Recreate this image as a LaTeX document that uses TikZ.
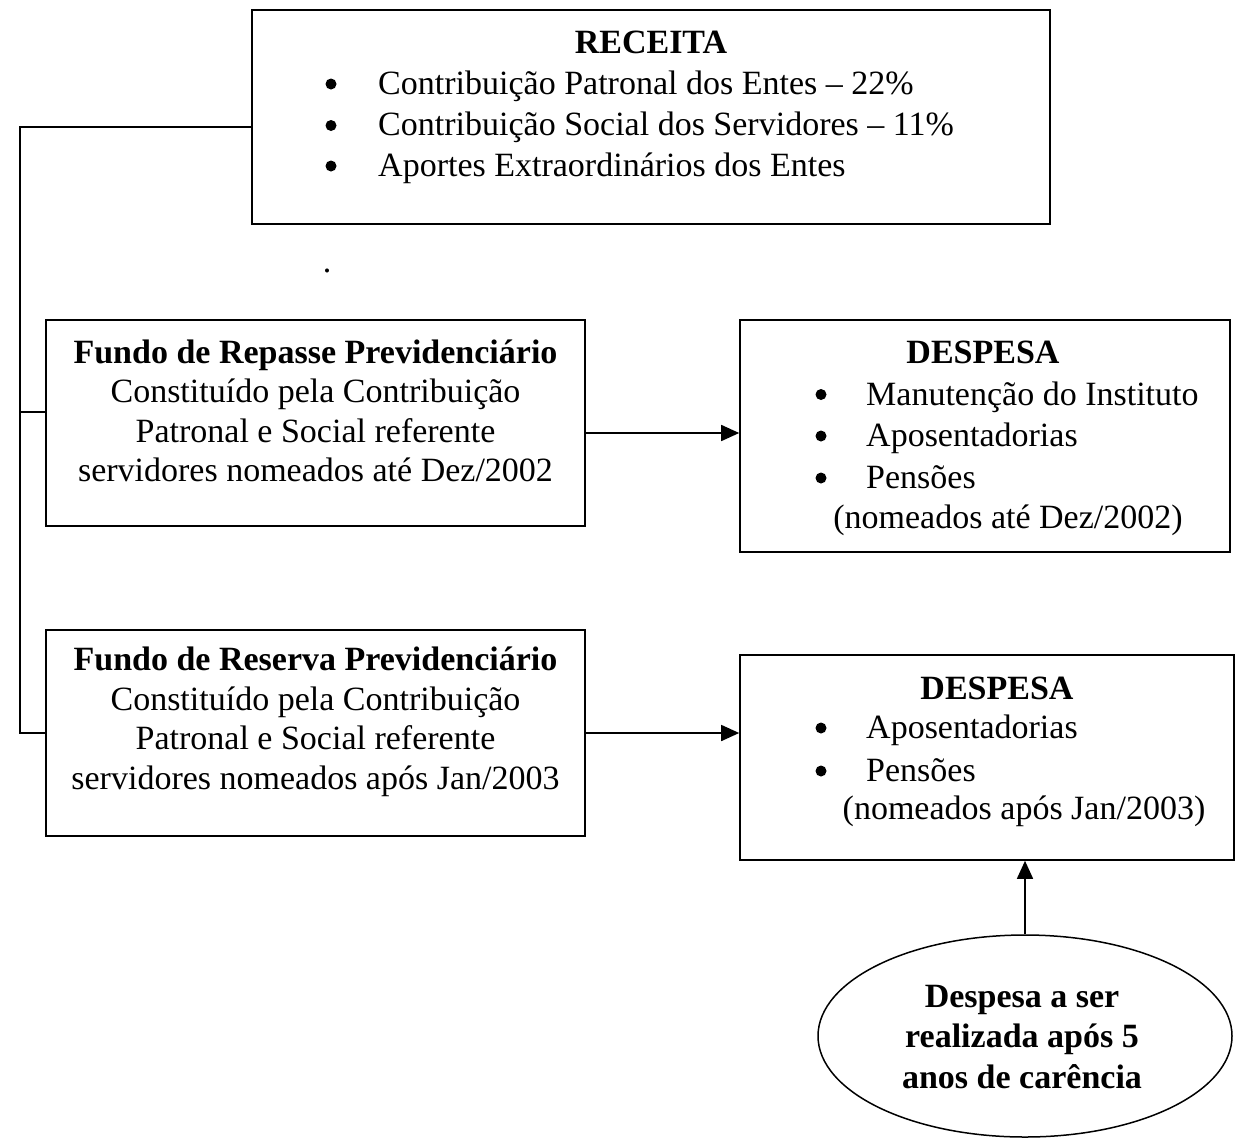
\documentclass[tikz,border=0pt]{standalone}
\usepackage{fontspec}
\setmainfont{Liberation Serif}
\usetikzlibrary{arrows.meta,shapes.geometric}
\begin{document}
\begin{tikzpicture}[x=1pt,y=-1pt,
  box/.style={draw, line width=1.6pt, inner sep=0pt},
  txt/.style={font=\fontsize{34}{39.5}\selectfont, inner sep=0pt, align=center},
  hd/.style={font=\bfseries\fontsize{34}{39.5}\selectfont, inner sep=0pt},
  lt/.style={font=\fontsize{34}{39.5}\selectfont, inner sep=0pt, anchor=base west},
  bul/.style={circle, fill, inner sep=0pt, minimum size=11pt},
  conn/.style={line width=1.6pt},
  arr/.style={line width=1.6pt, -{Triangle[length=18pt,width=16pt]}}
]
\useasboundingbox (0,0) rectangle (1236,1138);

% RECEITA
\node[box, minimum width=798pt, minimum height=214pt] (rec) at (651,117) {};
\node[hd] (rect) at (651,42) {RECEITA};
\node[bul] (rb1) at (331,84) {};
\node[bul] (rb2) at (331,125.5) {};
\node[bul] (rb3) at (331,166) {};
\node[lt] (rl1) at (378,94) {Contribuição Patronal dos Entes – 22\%};
\node[lt] (rl2) at (378,135.5) {Contribuição Social dos Servidores – 11\%};
\node[lt] (rl3) at (378,176) {Aportes Extraordinários dos Entes};

\node[font=\fontsize{34}{39.5}\selectfont, inner sep=0pt, anchor=base] (stray) at (327,272) {.};

% Fundo de Repasse
\node[box, minimum width=539pt, minimum height=206pt] (rep) at (315.5,423) {};
\node[txt] (rept) at (315.5,411) {\textbf{Fundo de Repasse Previdenciário}\\Constituído pela Contribuição\\Patronal e Social referente\\servidores nomeados até Dez/2002};

% Fundo de Reserva
\node[box, minimum width=539pt, minimum height=206pt] (res) at (315.5,733) {};
\node[txt] (rest) at (315.5,722) {\textbf{Fundo de Reserva Previdenciário}\\Constituído pela Contribuição\\Patronal e Social referente\\servidores nomeados após Jan/2003};

% DESPESA 1
\node[box, minimum width=490pt, minimum height=232pt] (des1) at (985,436) {};
\node[hd] (d1t) at (983,352) {DESPESA};
\node[bul] (d1b1) at (821,394.5) {};
\node[bul] (d1b2) at (821,436) {};
\node[bul] (d1b3) at (821,478) {};
\node[lt] (d1l1) at (866,405) {Manutenção do Instituto};
\node[lt] (d1l2) at (866,446) {Aposentadorias};
\node[lt] (d1l3) at (866,488) {Pensões};
\node[txt] (d1p) at (1008,520) {(nomeados até Dez/2002)};

% DESPESA 2
\node[box, minimum width=494pt, minimum height=205pt] (des2) at (987,757.5) {};
\node[hd] (d2t) at (997,688) {DESPESA};
\node[bul] (d2b1) at (821,728) {};
\node[bul] (d2b2) at (821,771) {};
\node[lt] (d2l1) at (866,738) {Aposentadorias};
\node[lt] (d2l2) at (866,781) {Pensões};
\node[txt] (d2p) at (1024,811) {(nomeados após Jan/2003)};

% Ellipse
\node[draw, ellipse, line width=1.5pt, minimum width=414pt, minimum height=202pt, inner sep=0pt] (el) at (1025,1036) {};
\node[txt, font=\bfseries\fontsize{34}{40.5}\selectfont] (elt) at (1022,1037) {Despesa a ser\\realizada após 5\\anos de carência};

% connectors
\coordinate (bus) at (20,0);
\draw[conn] ([yshift=-10pt]rec.west) -- ([yshift=-10pt]rec.west -| bus) -- (bus |- res.west) -- (res.west);
\draw[conn] ([yshift=11pt]rep.west) -- ([yshift=11pt]rep.west -| bus);
\draw[arr] ([yshift=-10pt]rep.east) -- ([yshift=-10pt]rep.east -| des1.west);
\draw[arr] (res.east) -- (res.east -| des2.west);
\draw[arr] (el.north) -- (el.north |- des2.south);
\end{tikzpicture}
\end{document}
